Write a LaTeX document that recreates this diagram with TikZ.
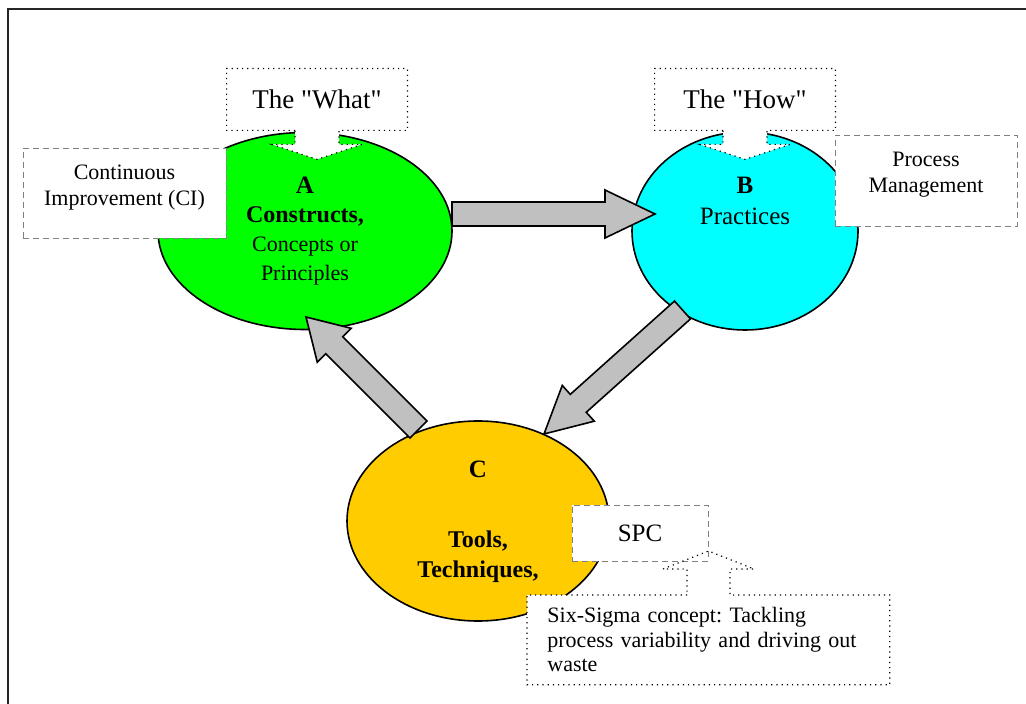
\documentclass[tikz,border=0pt]{standalone}
\usepackage{fontspec}
\setmainfont{Liberation Serif}[Ligatures=TeXOff]
\frenchspacing
\usetikzlibrary{shapes.geometric,calc}
\definecolor{cgreen}{RGB}{0,255,0}
\definecolor{ccyan}{RGB}{0,255,255}
\definecolor{cgold}{RGB}{255,204,0}
\definecolor{arrowgray}{RGB}{192,192,192}
\tikzstyle{circ}  = [ellipse,
                     draw,
                     line width=0.8pt]
\tikzstyle{blockarrow} = [draw,
                          line width=0.8pt,
                          fill=arrowgray,
                          line join=miter]
\tikzstyle{note}  = [rectangle,
                     draw=gray,
                     densely dashed,
                     line width=0.4pt,
                     fill=white,
                     align=center,
                     inner sep=0pt,
                     font=\fontsize{11}{13}\selectfont]
\tikzstyle{callbox} = [rectangle,
                       fill=white,
                       inner sep=0pt,
                       font=\fontsize{13.5}{16}\selectfont]
\tikzstyle{callline} = [draw,
                        dotted,
                        line width=0.6pt]
% #1 head length, #2 tail, #3 tip
\newcommand{\blockarrow}[3][25pt]{%
  \draw[blockarrow] ($(#2)!6pt!90:(#3)$)
    -- ($(#3)!#1!(#2)!6pt!-90:(#2)$)
    -- ($(#3)!#1!(#2)!12pt!-90:(#2)$)
    -- (#3)
    -- ($(#3)!#1!(#2)!12pt!90:(#2)$)
    -- ($(#3)!#1!(#2)!6pt!90:(#2)$)
    -- ($(#2)!6pt!-90:(#3)$) -- cycle;}
% callout pointer under a box
\newcommand{\downcallout}[1]{%
  \fill[white] ([xshift=-11pt]#1.south) -- ([xshift=11pt]#1.south)
    -- ++(0,-7pt) -- ++(11.5pt,0) -- ([yshift=-14.5pt]#1.south)
    -- ([xshift=-22.5pt,yshift=-7pt]#1.south) -- ++(11.5pt,0) -- cycle;
  \draw[callline] ([xshift=-11pt]#1.south) -- (#1.south west)
    -- (#1.north west) -- (#1.north east) -- (#1.south east)
    -- ([xshift=11pt]#1.south) -- ++(0,-7pt) -- ++(11.5pt,0)
    -- ([yshift=-14.5pt]#1.south)
    -- ([xshift=-22.5pt,yshift=-7pt]#1.south) -- ++(11.5pt,0) -- cycle;}

\begin{document}
\begin{tikzpicture}[x=0.5pt,y=-0.5pt]
  \useasboundingbox (0,0) rectangle (1026,704);
  \draw[line width=0.8pt, black!85] (8,704) -- (8,9) -- (1026,9);

  % Nodes
  \node[circ, fill=cgreen, minimum width=147pt, minimum height=98.5pt,
    align=center, font=\fontsize{11}{14.5}\selectfont] (A) at (305,231)
    {{\fontsize{12.5}{14.5}\selectfont\bfseries A}\\
     {\fontsize{12}{14.5}\selectfont\bfseries Constructs,}\\
     Concepts or\\Principles};
  \node[circ, fill=ccyan, minimum width=113pt, minimum height=99pt] (B) at (745,231) {};
  \node[circ, fill=cgold, minimum width=131pt, minimum height=100pt] (C) at (478,521) {};

  \node[align=center, font=\fontsize{12.5}{15.5}\selectfont] (Btext) at (745,201)
    {\textbf{B}\\Practices};
  \node[font=\fontsize{12.5}{15}\selectfont\bfseries] (Clabel) at (478,469) {C};
  \node[align=center, font=\fontsize{12}{15}\selectfont\bfseries] (Ctext) at (478,557)
    {Tools,\\Techniques,};

  % Edges
  \coordinate (ab1) at (452,214);
  \coordinate (ab2) at (655,214);
  \coordinate (bc1) at (682.5,310);
  \coordinate (bc2) at (544,434);
  \coordinate (ca1) at (418.5,429.5);
  \coordinate (ca2) at (306,317);
  \blockarrow{ab1}{ab2}
  \blockarrow[23pt]{bc1}{bc2}
  \blockarrow[20pt]{ca1}{ca2}

  % Notes
  \node[note, minimum width=101.5pt, minimum height=45pt] (ci) at (124.5,193)
    {Continuous\\Improvement (CI)\\[-5pt]\mbox{}};
  \node[note, minimum width=91pt, minimum height=45.5pt] (pm) at (926,180.5)
    {Process\\Management\\[-5pt]\mbox{}};

  \node[callbox, minimum width=90pt, minimum height=30.5pt] (what) at (317,99.5) {The "What"\hspace{5pt}};
  \downcallout{what}
  \node[callbox, minimum width=90pt, minimum height=30.5pt] (how) at (745,99.5) {The "How"\hspace{4pt}};
  \downcallout{how}

  \node[note, minimum width=68pt, minimum height=28pt,
    font=\fontsize{12.5}{15}\selectfont] (spc) at (640,533) {SPC};
  \node[rectangle, fill=white, anchor=north west, minimum width=181pt,
    minimum height=44.5pt, text width=161pt, inner xsep=10pt, inner ysep=0pt,
    align=left, font=\fontsize{11}{12.25}\selectfont] (sigma) at (527,595)
    {Six-Sigma concept: Tackling\\process variability and driving out\\waste};
  \coordinate (sigma-ptr) at (708.5,595);
  \draw[callline] (sigma-ptr) ++(-10.75pt,0) -- (sigma.north west)
    -- (sigma.south west) -- (sigma.south east) -- (sigma.north east)
    -- ([xshift=10.75pt]sigma-ptr) -- ++(0,13pt) -- ++(12pt,0)
    -- ([yshift=22pt]sigma-ptr)
    -- ([xshift=-22.75pt,yshift=13pt]sigma-ptr) -- ++(12pt,0) -- cycle;

\end{tikzpicture}
\end{document}
